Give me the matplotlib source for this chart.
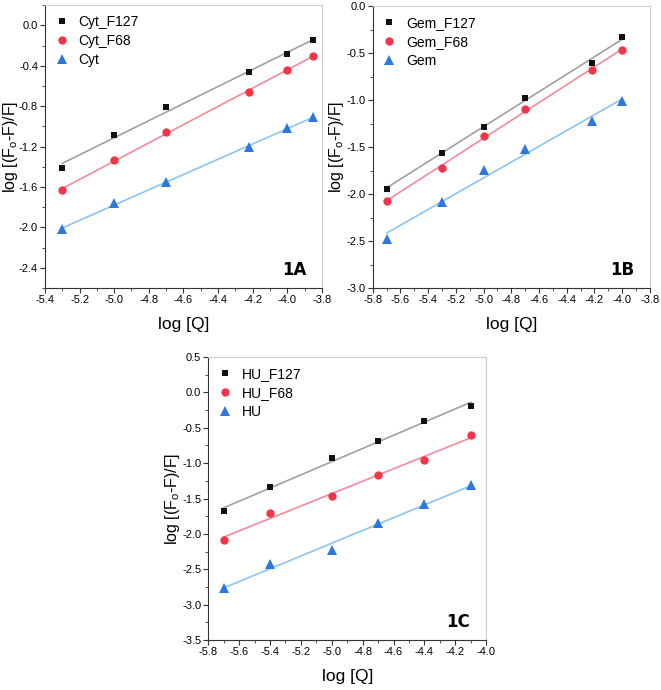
import numpy as np
import matplotlib
matplotlib.use("Agg")
import matplotlib.pyplot as plt
from matplotlib.ticker import MultipleLocator, AutoMinorLocator, FormatStrFormatter

plt.rcParams['font.family'] = ['Liberation Sans', 'DejaVu Sans']

# Panel 1A
x_a = [-5.3, -5.0, -4.7, -4.22, -4.0, -3.85]
cyt_f127 = [-1.41, -1.09, -0.81, -0.46, -0.28, -0.15]
cyt_f68 = [-1.63, -1.33, -1.06, -0.66, -0.44, -0.30]
cyt = [-2.02, -1.76, -1.55, -1.20, -1.02, -0.91]

# Panel 1B
x_b = [-5.7, -5.3, -5.0, -4.7, -4.22, -4.0]
gem_f127 = [-1.94, -1.56, -1.28, -0.97, -0.60, -0.33]
gem_f68 = [-2.07, -1.72, -1.38, -1.09, -0.68, -0.46]
gem = [-2.48, -2.08, -1.74, -1.52, -1.22, -1.01]

# Panel 1C
x_c = [-5.7, -5.4, -5.0, -4.7, -4.4, -4.1]
hu_f127 = [-1.68, -1.34, -0.93, -0.68, -0.40, -0.19]
hu_f68 = [-2.08, -1.70, -1.47, -1.17, -0.95, -0.60]
hu = [-2.77, -2.43, -2.23, -1.84, -1.58, -1.31]

MARK_COLORS = ['#111111', '#f2364a', '#2e78dc']
LINE_COLORS = ['#a0a0a0', '#f48a9a', '#8cc4f0']
MARKERS = ['s', 'o', '^']
MSIZE = [5, 6, 6.5]


def panel(ax, x, series, labels, tag, xlim, ylim, ystep, ylab_x):
    for i, (y, lab) in enumerate(zip(series, labels)):
        # linear fit line through each series
        k, b = np.polyfit(x, y, 1)
        xx = np.array([x[0], x[-1]])
        ax.plot(xx, k * xx + b, color=LINE_COLORS[i], lw=1.2, zorder=2)
        ax.plot(x, y, MARKERS[i], color=MARK_COLORS[i], ms=MSIZE[i], mew=0,
                linestyle='none', label=lab, zorder=3)
    ax.set_xlim(*xlim)
    ax.set_ylim(*ylim)
    ax.xaxis.set_major_locator(MultipleLocator(0.2))
    ax.yaxis.set_major_locator(MultipleLocator(ystep))
    ax.xaxis.set_minor_locator(AutoMinorLocator(2))
    ax.yaxis.set_minor_locator(AutoMinorLocator(2))
    ax.xaxis.set_major_formatter(FormatStrFormatter('%.1f'))
    ax.yaxis.set_major_formatter(FormatStrFormatter('%.1f'))
    ax.tick_params(which='both', direction='out', labelsize=8, color='#333333', pad=1.5)
    ax.tick_params(which='major', length=3.5)
    ax.tick_params(which='minor', length=2)
    for s in ['top', 'right']:
        ax.spines[s].set_color('#cccccc')
    for s in ['left', 'bottom']:
        ax.spines[s].set_color('#333333')
    ax.set_xlabel('log [Q]', fontsize=12.5, labelpad=9)
    ax.set_ylabel(r'log [(F$_{\mathregular{o}}$-F)/F]', fontsize=11.5)
    ax.yaxis.set_label_coords(ylab_x, 0.5)
    ax.legend(loc='upper left', frameon=False, fontsize=10, handlelength=1.0,
              handletextpad=0.7, borderaxespad=0.3, labelspacing=0.35)
    ax.text(0.9, 0.065, tag, transform=ax.transAxes, fontsize=12,
            fontweight='bold', ha='center', va='center', family='DejaVu Sans')


fig = plt.figure(figsize=(6.61, 6.90), dpi=100)
ax_a = fig.add_axes([0.068, 0.5826, 0.419, 0.410])
ax_b = fig.add_axes([0.564, 0.5826, 0.419, 0.408])
ax_c = fig.add_axes([0.315, 0.0725, 0.4206, 0.410])

panel(ax_a, x_a, [cyt_f127, cyt_f68, cyt], ['Cyt_F127', 'Cyt_F68', 'Cyt'], '1A',
      (-5.4, -3.8), (-2.6, 0.2), 0.4, -0.09)
panel(ax_b, x_b, [gem_f127, gem_f68, gem], ['Gem_F127', 'Gem_F68', 'Gem'], '1B',
      (-5.8, -3.8), (-3.0, 0.0), 0.5, -0.097)
panel(ax_c, x_c, [hu_f127, hu_f68, hu], ['HU_F127', 'HU_F68', 'HU'], '1C',
      (-5.8, -4.0), (-3.5, 0.5), 0.5, -0.094)

fig.savefig('out.png', dpi=100)
